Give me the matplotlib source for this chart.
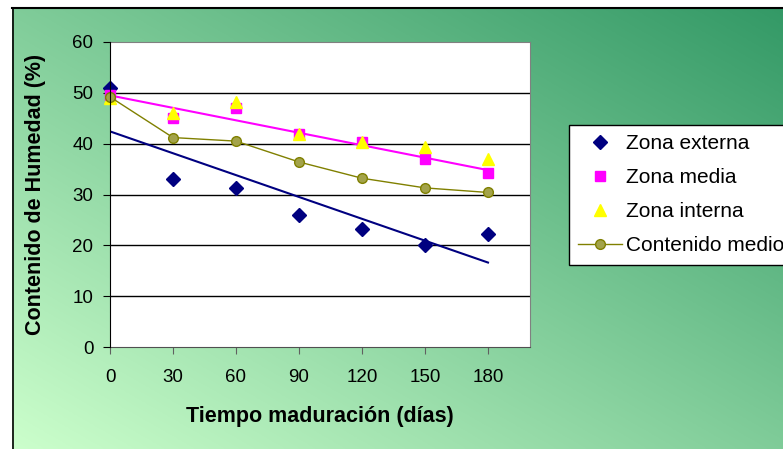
import numpy as np
import matplotlib
matplotlib.use("Agg")
import matplotlib.pyplot as plt
from matplotlib.lines import Line2D

plt.rcParams['font.family'] = ['Liberation Sans', 'DejaVu Sans']

dias = [0, 30, 60, 90, 120, 150, 180]
zona_externa = [51.0, 33.0, 31.2, 26.0, 23.2, 20.0, 22.2]
zona_media = [49.5, 45.0, 47.0, 42.0, 40.3, 37.0, 34.2]
zona_interna = [49.0, 46.0, 48.2, 42.0, 40.3, 39.3, 37.0]
contenido_medio = [49.2, 41.2, 40.5, 36.4, 33.2, 31.3, 30.4]
yticks = [0, 10, 20, 30, 40, 50, 60]

W, H = 783, 449
fig = plt.figure(figsize=(W / 100, H / 100), dpi=100)
fig.patch.set_facecolor('white')

# gradient background
bg = fig.add_axes([12 / W, 0, 1 - 12 / W, (H - 7) / H])
u = np.linspace(0, 1, 400)
v = np.linspace(0, 1, 300)
U, V = np.meshgrid(u, v)
t = (U + (1 - V)) / 2
light = np.array([204, 255, 204]) / 255
dark = np.array([51, 153, 102]) / 255
img = light[None, None, :] * (1 - t[..., None]) + dark[None, None, :] * t[..., None]
bg.imshow(img, aspect='auto', extent=[0, 1, 0, 1], origin='upper')
bg.set_xlim(0, 1)
bg.set_ylim(0, 1)
bg.axis('off')
fig.add_artist(Line2D([12 / W, 1], [1 - 7.5 / H, 1 - 7.5 / H], color='black', lw=1.5))
fig.add_artist(Line2D([12.5 / W, 12.5 / W], [0, 1 - 7.5 / H], color='black', lw=1.2))

ax = fig.add_axes([110 / W, 1 - 347 / H, 420 / W, 305 / H])
ax.set_facecolor('white')
ax.set_xlim(0, 200)
ax.set_ylim(0, 60)
ax.set_xticks(dias)
ax.set_yticks(yticks)
ax.tick_params(axis='both', labelsize=13.5, length=5, direction='out')
ax.tick_params(axis='x', colors='#606060', labelcolor='black', pad=11)
ax.tick_params(axis='y', pad=7)
for yv in yticks[1:-1]:
    ax.axhline(yv, color='black', lw=1, zorder=1)
for s in ['top', 'right', 'bottom']:
    ax.spines[s].set_color('#808080')
ax.spines['left'].set_color('black')
ax.spines['bottom'].set_color('#505050')
ax.spines['left'].set_zorder(5)

# lineas de tendencia
x = np.array(dias)
p1 = np.polyfit(x, zona_externa, 1)
p2 = np.polyfit(x, zona_media, 1)
xl = np.array([0, 180])
ax.plot(xl, np.polyval(p1, xl), color='#000080', lw=1.5, zorder=3)
ax.plot(xl, np.polyval(p2, xl), color='#FF00FF', lw=1.5, zorder=3)

ax.plot(dias, zona_externa, 'D', color='#000080', ms=7, ls='none', label='Zona externa', zorder=4, clip_on=False)
ax.plot(dias, zona_media, 's', color='#FF00FF', ms=7, ls='none', label='Zona media', zorder=4, clip_on=False)
ax.plot(dias, zona_interna, '^', color='#FFFF00', ms=8, ls='none', label='Zona interna', zorder=4, clip_on=False)
ax.plot(dias, contenido_medio, 'o-', color='#808000', mfc='#A3A34A', mec='#808000',
        ms=7, lw=1, label='Contenido medio', zorder=5, clip_on=False)

ax.set_xlabel('Tiempo maduración (días)', fontsize=15.5, fontweight='bold', labelpad=14)
ax.set_ylabel('Contenido de Humedad (%)', fontsize=15.5, fontweight='bold', labelpad=19)

leg = fig.legend(loc='upper left', bbox_to_anchor=(569 / W, 1 - 125 / H), fontsize=15,
                 frameon=True, fancybox=False, edgecolor='black', framealpha=1,
                 borderaxespad=0, labelspacing=0.72, handlelength=2.1,
                 handletextpad=0.2, borderpad=0.45)
leg.get_frame().set_linewidth(1)

fig.savefig('out.png', dpi=100)
